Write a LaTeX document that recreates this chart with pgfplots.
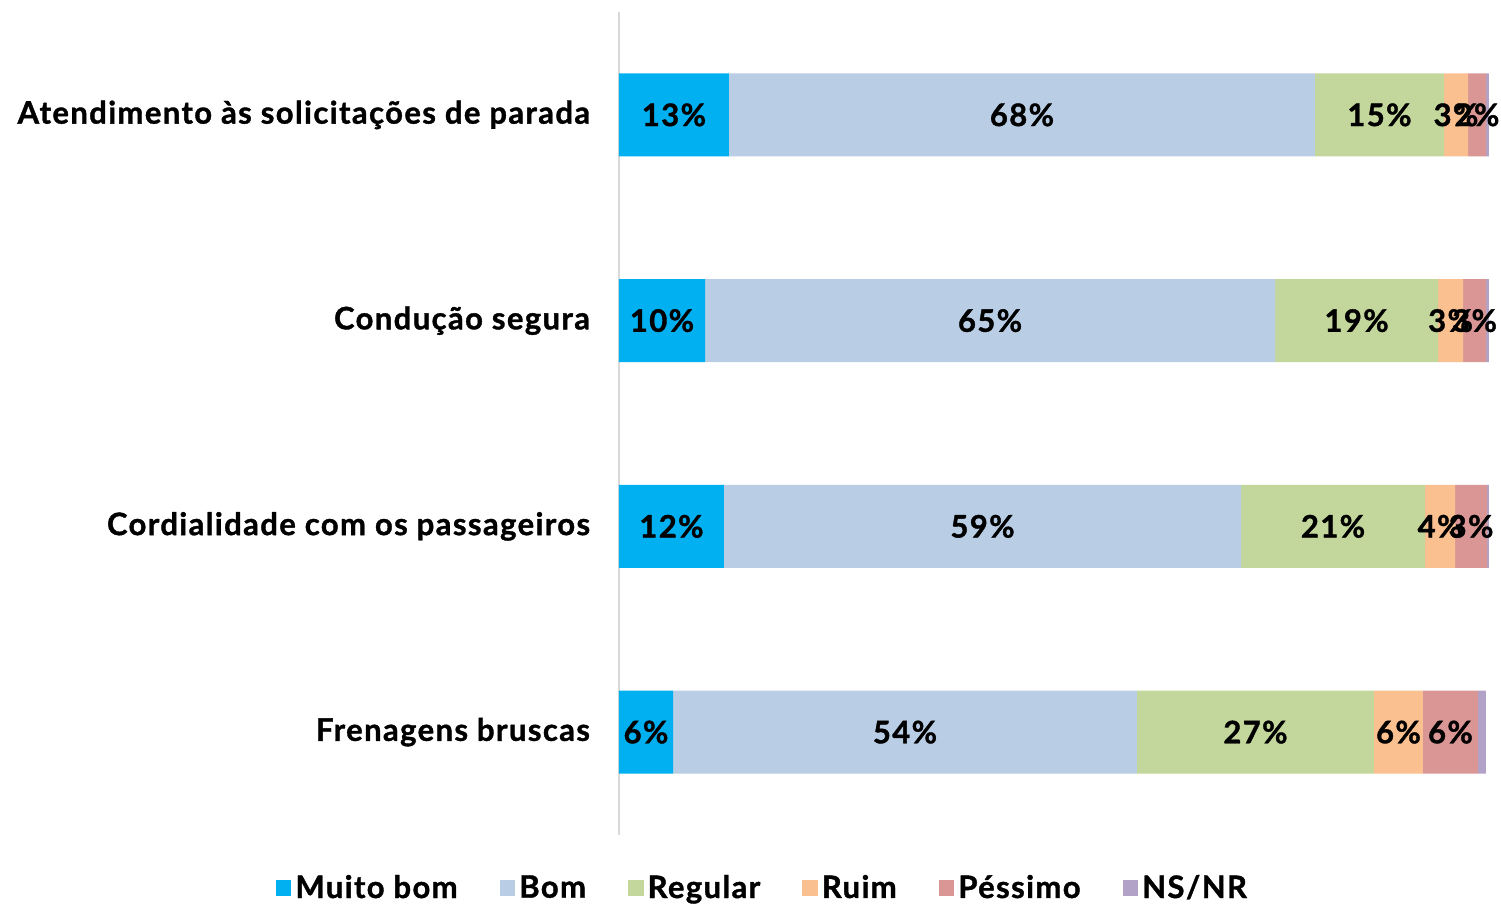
\documentclass[border=0pt]{standalone}
\usepackage{pgfplots}
\pgfplotsset{compat=1.18}
\usepackage{pgfplotstable}
\usepackage{fontspec}
\setmainfont{Lato}[BoldFeatures={LetterSpace=4.5, FakeBold=1.2}]
\usetikzlibrary{calc}
\definecolor{cMB}{HTML}{00B0F0}
\definecolor{cBom}{HTML}{B9CDE5}
\definecolor{cReg}{HTML}{C3D69B}
\definecolor{cRuim}{HTML}{FAC090}
\definecolor{cPes}{HTML}{D99694}
\definecolor{cNS}{HTML}{B3A2C7}
\pgfplotstableread{
y mb mbl bom boml reg regl ruim ruiml pes pesl ns
4 12.64 13 67.36 68 14.83 15 2.76 3 2.07 2 0.34
3 9.89 10 65.52 65 18.74 19 2.87 3 2.64 3 0.34
2 12.07 12 59.43 59 21.15 21 3.45 4 3.68 3 0.23
1 6.21 6 53.33 54 27.24 27 5.63 6 6.32 6 0.92
}\data
\newcommand\lblfont{\bfseries\fontsize{15.5}{18}\selectfont}
\begin{document}
\begin{tikzpicture}[font=\lblfont]
\begin{axis}[
  name=ax,
  scale only axis,
  width=435pt, height=411.5pt,
  xbar stacked,
  bar width=41.5pt,
  xmin=0, xmax=100,
  ymin=0.5, ymax=4.5,
  hide x axis,
  axis y line*=left,
  axis line style={draw=black!15, line width=1pt},
  ytick={1,2,3,4},
  yticklabels={Frenagens bruscas, Cordialidade com os passageiros, Condução segura, Atendimento às solicitações de parada},
  major tick length=0pt,
  yticklabel style={anchor=east, xshift=-11pt, font=\lblfont},
  point meta=explicit symbolic,
  nodes near coords={\pgfplotspointmeta\%},
  every node near coord/.append style={font=\lblfont, text=black},
  legend columns=-1,
  legend style={draw=none, at={(axis description cs:0.166,-0.0644)}, anchor=center,
    font=\lblfont,
    /tikz/every even column/.append style={column sep=19pt},
    inner sep=0pt},
  legend image code/.code={\fill[#1] (0pt,-3.9pt) rectangle (7.8pt,3.9pt);},
]
\addplot[fill=cMB, draw=none] table[x=mb, y=y, meta=mbl] {\data};
\addplot[fill=cBom, draw=none] table[x=bom, y=y, meta=boml] {\data};
\addplot[fill=cReg, draw=none] table[x=reg, y=y, meta=regl] {\data};
\addplot[fill=cRuim, draw=none] table[x=ruim, y=y, meta=ruiml] {\data};
\addplot[fill=cPes, draw=none] table[x=pes, y=y, meta=pesl] {\data};
\addplot[fill=cNS, draw=none, nodes near coords={}] table[x=ns, y=y, meta=mbl] {\data};
\legend{Muito bom, Bom, Regular, Ruim, Péssimo, NS/NR}
\end{axis}
\pgfresetboundingbox
\path[use as bounding box] ($(ax.south west)+(-309.5pt,-34.5pt)$) rectangle ($(ax.north east)+(6pt,6pt)$);
\end{tikzpicture}
\end{document}
